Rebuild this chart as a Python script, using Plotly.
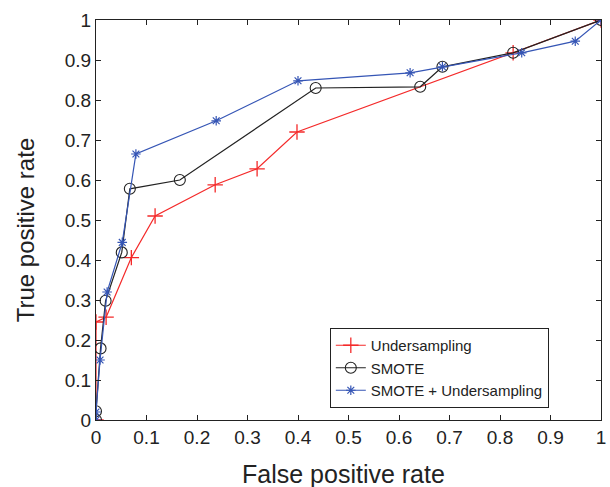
import plotly.graph_objects as go

under_fpr = [0, 0, 0.02, 0.07, 0.117, 0.236, 0.319, 0.398, 0.826, 1]
under_tpr = [0, 0.245, 0.257, 0.406, 0.51, 0.588, 0.628, 0.72, 0.918, 1]

smote_fpr = [0, 0, 0.009, 0.019, 0.051, 0.067, 0.166, 0.435, 0.642, 0.686, 0.826, 1]
smote_tpr = [0, 0.022, 0.179, 0.298, 0.419, 0.578, 0.60, 0.830, 0.833, 0.883, 0.918, 1]

both_fpr = [0, 0, 0.008, 0.022, 0.052, 0.079, 0.238, 0.40, 0.622, 0.686, 0.843, 0.949, 1]
both_tpr = [0, 0.02, 0.15, 0.32, 0.444, 0.665, 0.748, 0.848, 0.868, 0.883, 0.918, 0.947, 1]

ticks = [0, 0.1, 0.2, 0.3, 0.4, 0.5, 0.6, 0.7, 0.8, 0.9, 1]
tick_text = ["0", "0.1", "0.2", "0.3", "0.4", "0.5", "0.6", "0.7", "0.8", "0.9", "1"]

x_title = "False positive rate"
y_title = "True positive rate"

FONT = "Liberation Sans, Arial"

fig = go.Figure()
fig.add_trace(go.Scatter(
    x=under_fpr, y=under_tpr, mode="lines+markers", name="Undersampling",
    line=dict(color="#f42a2a", width=1.2),
    marker=dict(symbol="cross-thin-open", size=11, color="#f42a2a", line=dict(width=1.3, color="#f42a2a")),
))
fig.add_trace(go.Scatter(
    x=smote_fpr, y=smote_tpr, mode="lines+markers", name="SMOTE",
    line=dict(color="#222222", width=1.2),
    marker=dict(symbol="circle-open", size=11, color="#222222", line=dict(width=1.1, color="#222222")),
))
fig.add_trace(go.Scatter(
    x=both_fpr, y=both_tpr, mode="lines+markers", name="SMOTE + Undersampling",
    line=dict(color="#3555b5", width=1.2),
    marker=dict(symbol="asterisk-open", size=8, color="#3555b5", line=dict(width=1.2, color="#3555b5")),
))

axis_common = dict(
    range=[0, 1], tickvals=ticks, ticktext=tick_text,
    ticks="inside", ticklen=5, tickcolor="#222", tickwidth=1,
    showline=True, linecolor="#222", linewidth=1, mirror="ticks",
    showgrid=False, zeroline=False, automargin=False,
    tickfont=dict(family=FONT, size=19, color="#222"),
)

fig.update_xaxes(**axis_common)
fig.update_yaxes(**axis_common)

fig.add_annotation(text=x_title, xref="paper", yref="paper", x=0.49, y=-0.135,
                   xanchor="center", yanchor="middle", showarrow=False,
                   font=dict(family=FONT, size=25, color="#222"))
fig.add_annotation(text=y_title, xref="paper", yref="paper", x=-0.14, y=0.475,
                   xanchor="center", yanchor="middle", showarrow=False, textangle=-90,
                   font=dict(family=FONT, size=24, color="#222"))

fig.update_layout(
    width=610, height=487,
    margin=dict(l=96, r=9, t=20, b=67),
    plot_bgcolor="white", paper_bgcolor="white",
    legend=dict(
        x=0.463, y=0.23, xanchor="left", yanchor="top",
        bgcolor="white", bordercolor="#222", borderwidth=1,
        font=dict(family=FONT, size=15, color="#222"),
        tracegroupgap=0,
    ),
)

fig.write_html("out.html")
